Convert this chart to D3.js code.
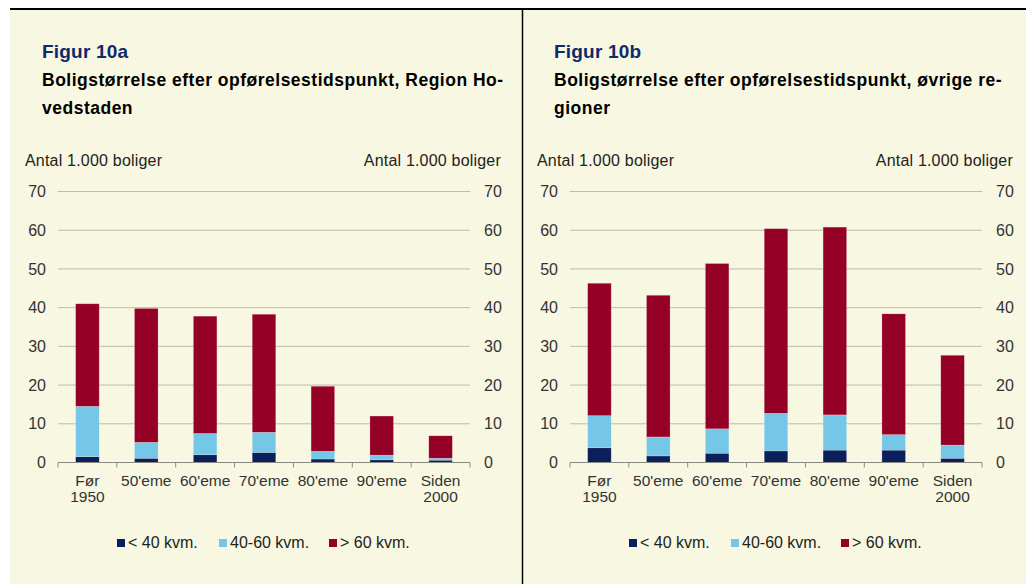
<!DOCTYPE html>
<html>
<head>
<meta charset="utf-8">
<script src="https://cdn.jsdelivr.net/npm/d3@7"></script>
<style>
  body { margin: 0; background: #ffffff; }
  svg text { font-family: "Liberation Sans", Arial, sans-serif; }
</style>
</head>
<body>
<div id="chart"></div>
<script>
// categories and values (1.000 boliger)
var categories = ["Før 1950", "50'eme", "60'eme", "70'eme", "80'eme", "90'eme", "Siden 2000"];
var seriesNames = ["< 40 kvm.", "40-60 kvm.", "> 60 kvm."];
var yTicks = [0, 10, 20, 30, 40, 50, 60, 70];

var hovedstadenSmall = [1.5, 1.1, 2.0, 2.6, 0.9, 0.7, 0.6];
var hovedstadenMid   = [13.0, 4.1, 5.5, 5.2, 2.0, 1.2, 0.5];
var hovedstadenLarge = [26.5, 34.6, 30.3, 30.5, 16.8, 10.1, 5.8];

var oevrigeSmall = [3.8, 1.7, 2.4, 3.0, 3.2, 3.2, 1.1];
var oevrigeMid   = [8.3, 4.9, 6.3, 9.7, 9.1, 4.0, 3.4];
var oevrigeLarge = [34.2, 36.6, 42.7, 47.7, 48.5, 31.2, 23.2];

var colors = ["#0b1f5c", "#74c7e6", "#950027"];

var svgWidth = 1026, svgHeight = 584;

var svg = d3.select("#chart").append("svg")
    .attr("width", svgWidth)
    .attr("height", svgHeight);

// cream background + frame lines
svg.append("rect")
    .attr("x", 10).attr("y", 9)
    .attr("width", svgWidth - 10).attr("height", svgHeight - 9)
    .attr("fill", "#f8f7e1");
svg.append("line")
    .attr("x1", 10).attr("x2", svgWidth)
    .attr("y1", 9).attr("y2", 9)
    .attr("stroke", "#000").attr("stroke-width", 2);
svg.append("line")
    .attr("x1", 522.5).attr("x2", 522.5)
    .attr("y1", 9).attr("y2", svgHeight)
    .attr("stroke", "#000").attr("stroke-width", 1.5);

function drawPanel(offsetX, figTitle, titleLines, small, mid, large)
{
    var g = svg.append("g")
        .attr("transform", "translate(" + offsetX + ",0)");

    var xScale = d3.scaleBand()
        .domain(categories)
        .range([58, 470])
        .paddingInner(0.6)
        .paddingOuter(0.3);

    var yScale = d3.scaleLinear()
        .domain([0, 70])
        .range([462.5, 191.5]);

    // titles
    g.append("text")
        .attr("x", 42).attr("y", 58)
        .style("font-size", "19px")
        .style("font-weight", "bold")
        .style("letter-spacing", "0.2px")
        .attr("fill", "#0d2a6b")
        .text(figTitle);

    titleLines.forEach(function(t, i){
        g.append("text")
            .attr("x", 42).attr("y", 86 + i * 28)
            .style("font-size", "17.5px")
            .style("font-weight", "bold")
            .style("letter-spacing", "0.5px")
            .attr("fill", "#000")
            .text(t);
    });

    // unit labels
    g.append("text")
        .attr("x", 25).attr("y", 166)
        .style("font-size", "16px")
        .style("letter-spacing", "0.2px")
        .attr("fill", "#222")
        .text("Antal 1.000 boliger");
    g.append("text")
        .attr("x", 501).attr("y", 166)
        .attr("text-anchor", "end")
        .style("font-size", "16px")
        .style("letter-spacing", "0.2px")
        .attr("fill", "#222")
        .text("Antal 1.000 boliger");

    // gridlines
    g.append("g")
        .selectAll("line")
        .data(yTicks.filter(function(d){ return d > 0; }))
        .enter().append("line")
        .attr("x1", 58).attr("x2", 470)
        .attr("y1", function(d){ return yScale(d); })
        .attr("y2", function(d){ return yScale(d); })
        .attr("stroke", "#bdbbab")
        .attr("stroke-width", 1);

    // y axis labels both sides
    var yLeft = d3.axisLeft(yScale).tickValues(yTicks).tickSize(0).tickPadding(0);
    var yRight = d3.axisRight(yScale).tickValues(yTicks).tickSize(0).tickPadding(0);

    var ya = g.append("g")
        .attr("transform", "translate(46,0)")
        .call(yLeft);
    var yb = g.append("g")
        .attr("transform", "translate(484,0)")
        .call(yRight);
    [ya, yb].forEach(function(a){
        a.select(".domain").remove();
        a.selectAll("text")
            .style("font-size", "16px")
            .attr("fill", "#333");
    });

    // stacked bars
    var rows = categories.map(function(c, i){
        return { cat: c, small: small[i], mid: mid[i], large: large[i] };
    });
    var stack = d3.stack().keys(["small", "mid", "large"]);
    var layers = stack(rows);

    g.append("g")
        .selectAll("g")
        .data(layers)
        .enter().append("g")
        .attr("fill", function(d, i){ return colors[i]; })
        .selectAll("rect")
        .data(function(d){ return d; })
        .enter().append("rect")
        .attr("x", function(d){ return xScale(d.data.cat); })
        .attr("width", xScale.bandwidth())
        .attr("y", function(d){ return yScale(d[1]); })
        .attr("height", function(d){ return yScale(d[0]) - yScale(d[1]); })
        .attr("stroke", "rgba(255,255,255,0.35)")
        .attr("stroke-width", 0.6);

    // x axis line with ticks between categories
    var baseY = yScale(0);
    g.append("line")
        .attr("x1", 58).attr("x2", 470)
        .attr("y1", baseY).attr("y2", baseY)
        .attr("stroke", "#8a8a80").attr("stroke-width", 1);
    var step = xScale.step();
    var tickXs = d3.range(categories.length + 1).map(function(i){ return 58 + i * step; });
    g.append("g")
        .selectAll("line")
        .data(tickXs)
        .enter().append("line")
        .attr("x1", function(d){ return d; })
        .attr("x2", function(d){ return d; })
        .attr("y1", baseY).attr("y2", baseY + 5)
        .attr("stroke", "#8a8a80").attr("stroke-width", 1);

    // category labels (two lines where needed)
    var labels = g.append("g")
        .selectAll("text")
        .data(categories)
        .enter().append("text")
        .attr("text-anchor", "middle")
        .attr("x", function(d){ return xScale(d) + xScale.bandwidth() / 2; })
        .attr("y", 486)
        .style("font-size", "15.5px")
        .attr("fill", "#333");
    labels.each(function(d){
        var parts = d.split(" ");
        var t = d3.select(this);
        parts.forEach(function(p, i){
            t.append("tspan")
                .attr("x", t.attr("x"))
                .attr("dy", i == 0 ? 0 : 16)
                .text(p);
        });
    });

    // legend
    var legendX = [117, 219, 329];
    var legend = g.append("g")
        .selectAll("g")
        .data(seriesNames)
        .enter().append("g")
        .attr("transform", function(d, i){ return "translate(" + legendX[i] + ",539)"; });
    legend.append("rect")
        .attr("width", 8).attr("height", 8)
        .attr("fill", function(d, i){ return colors[i]; });
    legend.append("text")
        .attr("x", 11).attr("y", 9)
        .style("font-size", "16px")
        .attr("fill", "#222")
        .text(function(d){ return d; });
}

drawPanel(0, "Figur 10a",
    ["Boligstørrelse efter opførelsestidspunkt, Region Ho-", "vedstaden"],
    hovedstadenSmall, hovedstadenMid, hovedstadenLarge);

drawPanel(512, "Figur 10b",
    ["Boligstørrelse efter opførelsestidspunkt, øvrige re-", "gioner"],
    oevrigeSmall, oevrigeMid, oevrigeLarge);
</script>
</body>
</html>
